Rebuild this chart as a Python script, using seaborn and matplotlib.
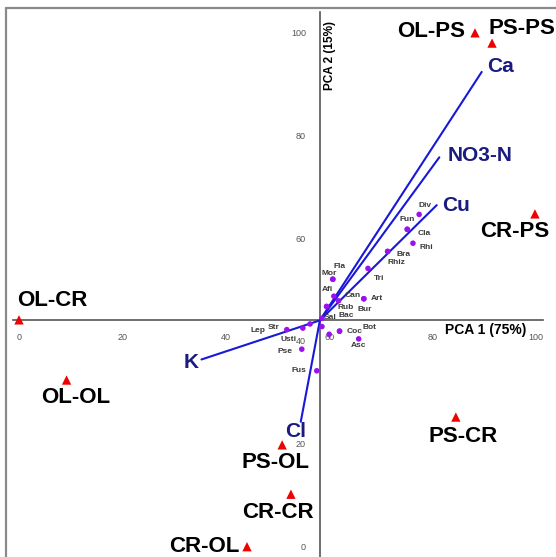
import matplotlib
matplotlib.use("Agg")
import matplotlib.pyplot as plt
import seaborn as sns
import pandas as pd

# ---------------- data ----------------
samples = ["OL-CR", "OL-OL", "OL-PS", "PS-PS", "CR-PS", "PS-CR", "PS-OL", "CR-CR", "CR-OL"]
sample_pc1 = [0.0, 9.2, 88.2, 91.5, 99.8, 84.5, 50.9, 52.6, 44.1]
sample_pc2 = [44.1, 32.4, 99.9, 97.9, 64.7, 25.2, 19.8, 10.2, 0.0]

taxa = ["Div", "Fun", "Cla", "Rhi", "Bra", "Rhiz", "Tri", "Fla", "Mor", "Afi", "Can", "Art",
        "Rub", "Bur", "Bac", "Sal", "Coc", "Bot", "Asc", "Lep", "Str", "Usti", "Pse", "Fus", "", ""]
taxa_pc1 = [77.4, 75.1, 75.1, 76.2, 71.3, 71.3, 67.5, 60.7, 60.7, 60.9, 61.8, 66.7,
            59.5, 66.7, 59.5, 58.6, 62.0, 62.0, 65.7, 51.8, 54.9, 56.3, 54.7, 57.6, 60.0, 58.6]
taxa_pc2 = [64.6, 61.7, 61.7, 59.0, 57.4, 57.4, 54.1, 52.0, 52.0, 48.7, 47.8, 48.2,
            46.7, 48.2, 46.7, 44.4, 41.9, 41.9, 40.4, 42.2, 42.5, 43.3, 38.4, 34.2, 41.3, 42.8]

variables = ["Ca", "NO3-N", "Cu", "K", "Cl"]
var_pc1 = [89.5, 81.3, 80.8, 35.3, 54.5]
var_pc2 = [92.3, 75.7, 66.4, 36.4, 24.3]

origin = (58.2, 44.0)
ticks = [0, 20, 40, 60, 80, 100]
xlabel = "PCA 1 (75%)"
ylabel = "PCA 2 (15%)"

# ---------------- layout / style ----------------
sample_off = {  # (dx, dy) pixels, ha
    "OL-CR": (-2, 19, "left"), "OL-OL": (9, -17, "center"), "OL-PS": (-10, 1, "right"),
    "PS-PS": (-4, 15, "left"), "CR-PS": (-20, -18, "center"), "PS-CR": (7, -19, "center"),
    "PS-OL": (-7, -18, "center"), "CR-CR": (-13, -18, "center"), "CR-OL": (-7, 0, "right"),
}
taxa_off = {
    "Div": (6, 9), "Fun": (0, 10), "Cla": (17, -4), "Rhi": (13, -4), "Bra": (16, -3),
    "Rhiz": (9, -11), "Tri": (11, -10), "Fla": (7, 13), "Mor": (-4, 6), "Afi": (-6, 6.5),
    "Can": (14, 5), "Art": (13, 0), "Rub": (19, -0.6), "Bur": (1, -11), "Bac": (20, -9),
    "Sal": (8, 1), "Coc": (15, 0), "Bot": (30, 4), "Asc": (0, -7), "Lep": (-29, -1),
    "Str": (-29, 1), "Usti": (-22, -16), "Pse": (-17, -2), "Fus": (-18, 0),
}
var_off = {
    "Ca": (5, 5, "left"), "NO3-N": (8, 2, "left"), "Cu": (5, 0, "left"),
    "K": (-10, -3, "center"), "Cl": (-5, -10, "center"),
}

sns.set_style("white")
plt.rcParams["font.family"] = ["Liberation Sans", "DejaVu Sans"]

fig = plt.figure(figsize=(5.56, 5.57), dpi=100)
ax = fig.add_axes([0, 0, 1, 1])
ax.set_xlim(-3.675, 103.87)
ax.set_ylim(-2.0, 106.28)

df_s = pd.DataFrame({"pc1": sample_pc1, "pc2": sample_pc2, "name": samples})
df_t = pd.DataFrame({"pc1": taxa_pc1, "pc2": taxa_pc2, "name": taxa})

# vectors
for name, vx, vy in zip(variables, var_pc1, var_pc2):
    ax.plot([origin[0], vx], [origin[1], vy], color="#1818D8", lw=1.5, zorder=2)
    dx, dy, ha = var_off[name]
    ax.annotate(name, (vx, vy), xytext=(dx, dy), textcoords="offset pixels",
                ha=ha, va="center", fontsize=15, fontweight="bold", color="#1A1A80", zorder=5)

sns.scatterplot(data=df_t, x="pc1", y="pc2", color="#9A10EE", s=16, edgecolor="none",
                ax=ax, zorder=3, legend=False)
sns.scatterplot(data=df_s, x="pc1", y="pc2", color="#F00000", marker="^", s=45,
                edgecolor="none", ax=ax, zorder=4, legend=False)

for name, x, y in zip(taxa, taxa_pc1, taxa_pc2):
    if not name:
        continue
    dx, dy = taxa_off[name]
    ax.annotate(name, (x, y), xytext=(dx, dy), textcoords="offset pixels",
                ha="center", va="center", fontsize=6, fontweight="bold", color="#3A3A3A", zorder=5)

for name, x, y in zip(samples, sample_pc1, sample_pc2):
    dx, dy, ha = sample_off[name]
    ax.annotate(name, (x, y), xytext=(dx, dy), textcoords="offset pixels",
                ha=ha, va="center", fontsize=16, fontweight="bold", color="black", zorder=5)

# crossing axes
for s in ["top", "right"]:
    ax.spines[s].set_visible(False)
ax.spines["left"].set_position(("data", origin[0]))
ax.spines["bottom"].set_position(("data", origin[1]))
ax.spines["left"].set_bounds(-2.0, 103.9)
ax.spines["bottom"].set_bounds(-1.2, 101.4)
for s in ["left", "bottom"]:
    ax.spines[s].set_color("#555555")
    ax.spines[s].set_linewidth(1.2)
    ax.spines[s].set_zorder(1)
ax.set_xticks(ticks)
ax.set_yticks(ticks)
ax.tick_params(axis="both", direction="out", length=3, width=0.8, color="#555555",
               labelsize=6.5, labelcolor="#555555")
ax.tick_params(axis="x", pad=6)
ax.tick_params(axis="y", pad=7)
ax.set_xlabel("")
ax.set_ylabel("")

ax.text(486 / 556, 1 - 330 / 557, xlabel, transform=ax.transAxes, ha="center", va="center",
        fontsize=10, fontweight="bold", color="black")
ax.text(330 / 556, 1 - 55 / 557, ylabel, transform=ax.transAxes, ha="center", va="center",
        rotation=90, fontsize=8.5, fontweight="bold", color="black")

# outer frame (top and left)
ax.plot([6 / 556, 1], [1 - 8 / 557, 1 - 8 / 557], transform=ax.transAxes, color="#8A8A8A",
        lw=1.6, clip_on=False)
ax.plot([6 / 556, 6 / 556], [0, 1 - 8 / 557], transform=ax.transAxes, color="#8A8A8A",
        lw=1.6, clip_on=False)

fig.savefig("out.png", dpi=100)
